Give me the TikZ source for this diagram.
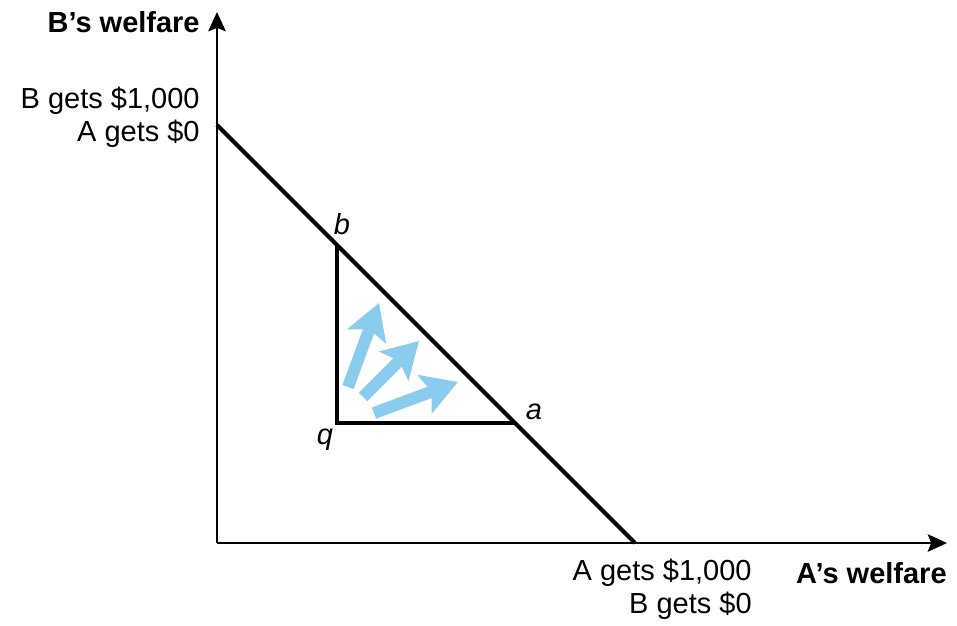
\documentclass[tikz,border=0pt]{standalone}
\usepackage{fontspec}
\setmainfont{Liberation Sans}
\usepackage{xcolor}
\usetikzlibrary{arrows.meta}
\definecolor{gainblue}{RGB}{137,204,238}

\begin{document}
\begin{tikzpicture}[font=\fontsize{16.5}{18.8}\selectfont,>={Stealth[length=11pt,width=10pt,inset=2pt]}]
    \tikzset{lbl/.style={inner sep=0pt,align=right},
             pt/.style={inner sep=0pt,font=\fontsize{16.5}{18.8}\selectfont\itshape},
             ax/.style={->,line width=1.1pt},
             edge/.style={line width=2.3pt},
             gain/.style={-{Stealth[length=20pt,width=23pt,inset=4pt]},line width=6.8pt,gainblue}}
    \useasboundingbox (-4.34,-1.64) rectangle (14.8,10.86);
    \coordinate (O) at (0,0);
    \coordinate (ytip) at (0,10.62);
    \coordinate (xtip) at (14.6,0);
    \coordinate (top) at (0,8.36);
    \coordinate (bot) at (8.36,0);
    \coordinate (bpt) at (2.4,5.96);
    \coordinate (apt) at (5.96,2.4);
    \coordinate (qpt) at (2.4,2.4);
    % axes
    \draw[ax] (O) -- (ytip);
    \draw[ax] (O) -- (xtip);
    \node[lbl,anchor=east,font=\fontsize{16.5}{18.8}\selectfont\bfseries] (ylab) at (-0.34,10.42) {B’s welfare};
    \node[lbl,anchor=east,font=\fontsize{16.5}{18.8}\selectfont\bfseries] (xlab) at (14.6,-0.6) {A’s welfare};
    \node[lbl,anchor=east] (toplab) at (-0.34,8.52) {B gets \$1,000\\A gets \$0};
    \node[lbl,anchor=east] (botlab) at (10.7,-0.92) {A gets \$1,000\\B gets \$0};
    % frontier and triangle
    \draw[edge] (top) -- (bot);
    \draw[edge,line join=miter] (bpt) -- (qpt) -- (apt);
    \node[pt] (b) at (2.5,6.38) {b};
    \node[pt] (a) at (6.34,2.62) {a};
    \node[pt] (q) at (2.16,2.06) {q};
    % improvements
    \coordinate (s1) at (2.62,3.12); \coordinate (e1) at (3.24,4.8);
    \coordinate (s2) at (2.92,2.92); \coordinate (e2) at (4.04,4.04);
    \coordinate (s3) at (3.14,2.6);  \coordinate (e3) at (4.82,3.22);
    \foreach \i in {1,2,3} \draw[gain] (s\i) -- (e\i);
\end{tikzpicture}
\end{document}
